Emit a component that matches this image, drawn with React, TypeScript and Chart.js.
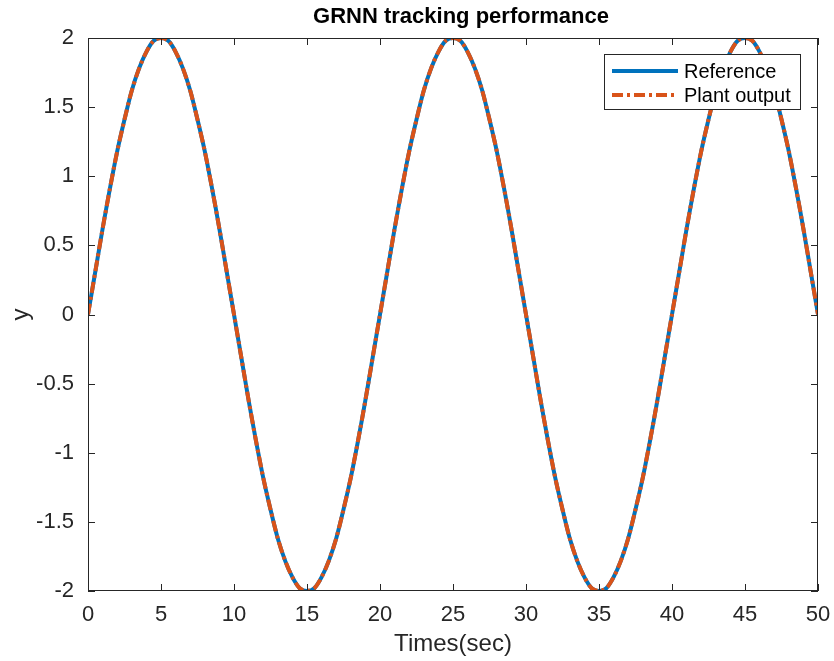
import React, { useEffect, useRef } from "react";
import { Chart, registerables } from "chart.js";

Chart.register(...registerables);

const times: number[] = [
  0, 0.5, 1, 1.5, 2, 2.5, 3, 3.5, 4, 4.5, 5, 5.5, 6, 6.5, 7, 7.5, 8, 8.5, 9, 9.5,
  10, 10.5, 11, 11.5, 12, 12.5, 13, 13.5, 14, 14.5, 15, 15.5, 16, 16.5, 17, 17.5, 18, 18.5, 19, 19.5,
  20, 20.5, 21, 21.5, 22, 22.5, 23, 23.5, 24, 24.5, 25, 25.5, 26, 26.5, 27, 27.5, 28, 28.5, 29, 29.5,
  30, 30.5, 31, 31.5, 32, 32.5, 33, 33.5, 34, 34.5, 35, 35.5, 36, 36.5, 37, 37.5, 38, 38.5, 39, 39.5,
  40, 40.5, 41, 41.5, 42, 42.5, 43, 43.5, 44, 44.5, 45, 45.5, 46, 46.5, 47, 47.5, 48, 48.5, 49, 49.5,
  50,
];

const reference: number[] = [
  0, 0.31, 0.62, 0.91, 1.18, 1.41, 1.62, 1.78, 1.9, 1.98, 2, 1.98, 1.9, 1.78, 1.62, 1.41, 1.18, 0.91, 0.62, 0.31,
  0, -0.31, -0.62, -0.91, -1.18, -1.41, -1.62, -1.78, -1.9, -1.98, -2, -1.98, -1.9, -1.78, -1.62, -1.41, -1.18, -0.91, -0.62, -0.31,
  0, 0.31, 0.62, 0.91, 1.18, 1.41, 1.62, 1.78, 1.9, 1.98, 2, 1.98, 1.9, 1.78, 1.62, 1.41, 1.18, 0.91, 0.62, 0.31,
  0, -0.31, -0.62, -0.91, -1.18, -1.41, -1.62, -1.78, -1.9, -1.98, -2, -1.98, -1.9, -1.78, -1.62, -1.41, -1.18, -0.91, -0.62, -0.31,
  0, 0.31, 0.62, 0.91, 1.18, 1.41, 1.62, 1.78, 1.9, 1.98, 2, 1.98, 1.9, 1.78, 1.62, 1.41, 1.18, 0.91, 0.62, 0.31,
  0,
];

const plantOutput: number[] = [
  0, 0.31, 0.62, 0.91, 1.18, 1.41, 1.62, 1.78, 1.9, 1.98, 2, 1.98, 1.9, 1.78, 1.62, 1.41, 1.18, 0.91, 0.62, 0.31,
  0, -0.31, -0.62, -0.91, -1.18, -1.41, -1.62, -1.78, -1.9, -1.98, -2, -1.98, -1.9, -1.78, -1.62, -1.41, -1.18, -0.91, -0.62, -0.31,
  0, 0.31, 0.62, 0.91, 1.18, 1.41, 1.62, 1.78, 1.9, 1.98, 2, 1.98, 1.9, 1.78, 1.62, 1.41, 1.18, 0.91, 0.62, 0.31,
  0, -0.31, -0.62, -0.91, -1.18, -1.41, -1.62, -1.78, -1.9, -1.98, -2, -1.98, -1.9, -1.78, -1.62, -1.41, -1.18, -0.91, -0.62, -0.31,
  0, 0.31, 0.62, 0.91, 1.18, 1.41, 1.62, 1.78, 1.9, 1.98, 2, 1.98, 1.9, 1.78, 1.62, 1.41, 1.18, 0.91, 0.62, 0.31,
  0,
];

const xTicks: number[] = [0, 5, 10, 15, 20, 25, 30, 35, 40, 45, 50];
const yTicks: number[] = [-2, -1.5, -1, -0.5, 0, 0.5, 1, 1.5, 2];
const seriesNames: string[] = ["Reference", "Plant output"];
const titleText = "GRNN tracking performance";
const xLabel = "Times(sec)";
const yLabel = "y";

const BLUE = "#0072BD";
const ORANGE = "#D95319";
const AXIS = "#262626";
const FONT = "'Liberation Sans', Arial, sans-serif";
const DASH = [11, 4, 3, 4];

const decorPlugin = {
  id: "matlabDecor",
  afterDraw(chart: any) {
    const { ctx, chartArea } = chart;
    const { left, right, top, bottom } = chartArea;
    const xs = chart.scales.x;
    const ys = chart.scales.y;
    ctx.save();
    // box
    ctx.strokeStyle = AXIS;
    ctx.lineWidth = 1;
    ctx.strokeRect(left + 0.5, top + 0.5, right - left - 1, bottom - top - 1);
    // inward ticks
    const tl = 7;
    ctx.beginPath();
    for (const v of xTicks) {
      const px = Math.round(xs.getPixelForValue(v)) + 0.5;
      ctx.moveTo(px, bottom);
      ctx.lineTo(px, bottom - tl);
      ctx.moveTo(px, top);
      ctx.lineTo(px, top + tl);
    }
    for (const v of yTicks) {
      const py = Math.round(ys.getPixelForValue(v)) + 0.5;
      ctx.moveTo(left, py);
      ctx.lineTo(left + tl, py);
      ctx.moveTo(right, py);
      ctx.lineTo(right - tl, py);
    }
    ctx.stroke();

    // title
    ctx.fillStyle = "#000";
    ctx.font = `bold 22px ${FONT}`;
    ctx.textAlign = "center";
    ctx.textBaseline = "alphabetic";
    ctx.fillText(titleText, (left + right) / 2 + 8, 23);

    // axis labels
    ctx.fillStyle = AXIS;
    ctx.font = `24px ${FONT}`;
    ctx.fillText(xLabel, (left + right) / 2, 651);
    ctx.save();
    ctx.translate(21, (top + bottom) / 2);
    ctx.rotate(-Math.PI / 2);
    ctx.textBaseline = "middle";
    ctx.fillText(yLabel, 0, 0);
    ctx.restore();

    // legend
    const lx = 604, ly = 54, lw = 196, lh = 55;
    ctx.fillStyle = "#fff";
    ctx.fillRect(lx, ly, lw, lh);
    ctx.strokeStyle = AXIS;
    ctx.lineWidth = 1;
    ctx.strokeRect(lx + 0.5, ly + 0.5, lw, lh);
    const rows = [
      { name: seriesNames[0], color: BLUE, dash: [] as number[] },
      { name: seriesNames[1], color: ORANGE, dash: DASH },
    ];
    rows.forEach((r, i) => {
      const yy = ly + 17 + i * 24;
      ctx.beginPath();
      ctx.strokeStyle = r.color;
      ctx.lineWidth = 4;
      ctx.setLineDash(r.dash);
      ctx.moveTo(612, yy);
      ctx.lineTo(678, yy);
      ctx.stroke();
      ctx.setLineDash([]);
      ctx.fillStyle = "#000";
      ctx.font = `20px ${FONT}`;
      ctx.textAlign = "left";
      ctx.textBaseline = "middle";
      ctx.fillText(r.name, 684, yy + 1);
    });
    ctx.restore();
  },
};

export default function App() {
  const ref = useRef<HTMLCanvasElement | null>(null);
  useEffect(() => {
    document.body.style.margin = "0";
    const canvas = ref.current;
    if (!canvas) return;
    const chart = new Chart(canvas, {
      type: "line",
      data: {
        datasets: [
          {
            label: seriesNames[0],
            data: times.map((t, i) => ({ x: t, y: reference[i] })),
            borderColor: BLUE,
            borderWidth: 4,
            pointRadius: 0,
            tension: 0.3,
            fill: false,
            order: 2,
          },
          {
            label: seriesNames[1],
            data: times.map((t, i) => ({ x: t, y: plantOutput[i] })),
            borderColor: ORANGE,
            borderWidth: 4,
            borderDash: DASH,
            pointRadius: 0,
            tension: 0.3,
            fill: false,
            order: 1,
          },
        ],
      },
      options: {
        animation: false,
        responsive: false,
        maintainAspectRatio: false,
        devicePixelRatio: 1,
        layout: { padding: { top: 38, right: 16, left: 0, bottom: 0 } },
        plugins: {
          legend: { display: false },
          title: { display: false },
          tooltip: { enabled: false },
        },
        scales: {
          x: {
            type: "linear",
            min: 0,
            max: 50,
            afterFit: (s: any) => {
              s.height = 70;
              s.paddingLeft = 0;
              s.paddingRight = 0;
            },
            afterBuildTicks: (s: any) => { s.ticks = xTicks.map((v) => ({ value: v })); },
            grid: { display: false },
            border: { display: false },
            ticks: {
              color: AXIS,
              font: { size: 22, family: FONT },
              padding: 3,
              maxRotation: 0,
              callback: (v: any) => String(v),
            },
          },
          y: {
            type: "linear",
            min: -2,
            max: 2,
            afterFit: (s: any) => {
              s.width = 88;
              s.paddingTop = 0;
              s.paddingBottom = 0;
            },
            afterBuildTicks: (s: any) => { s.ticks = yTicks.map((v) => ({ value: v })); },
            grid: { display: false },
            border: { display: false },
            ticks: {
              color: AXIS,
              font: { size: 22, family: FONT },
              padding: 6,
              callback: (v: any) => String(v),
            },
          },
        },
      },
      plugins: [decorPlugin],
    });
    return () => chart.destroy();
  }, []);
  return (
    <div style={{ position: "absolute", left: 0, top: 0, width: 834, height: 661, background: "#fff" }}>
      <canvas ref={ref} width={834} height={661} style={{ width: 834, height: 661 }} />
    </div>
  );
}
